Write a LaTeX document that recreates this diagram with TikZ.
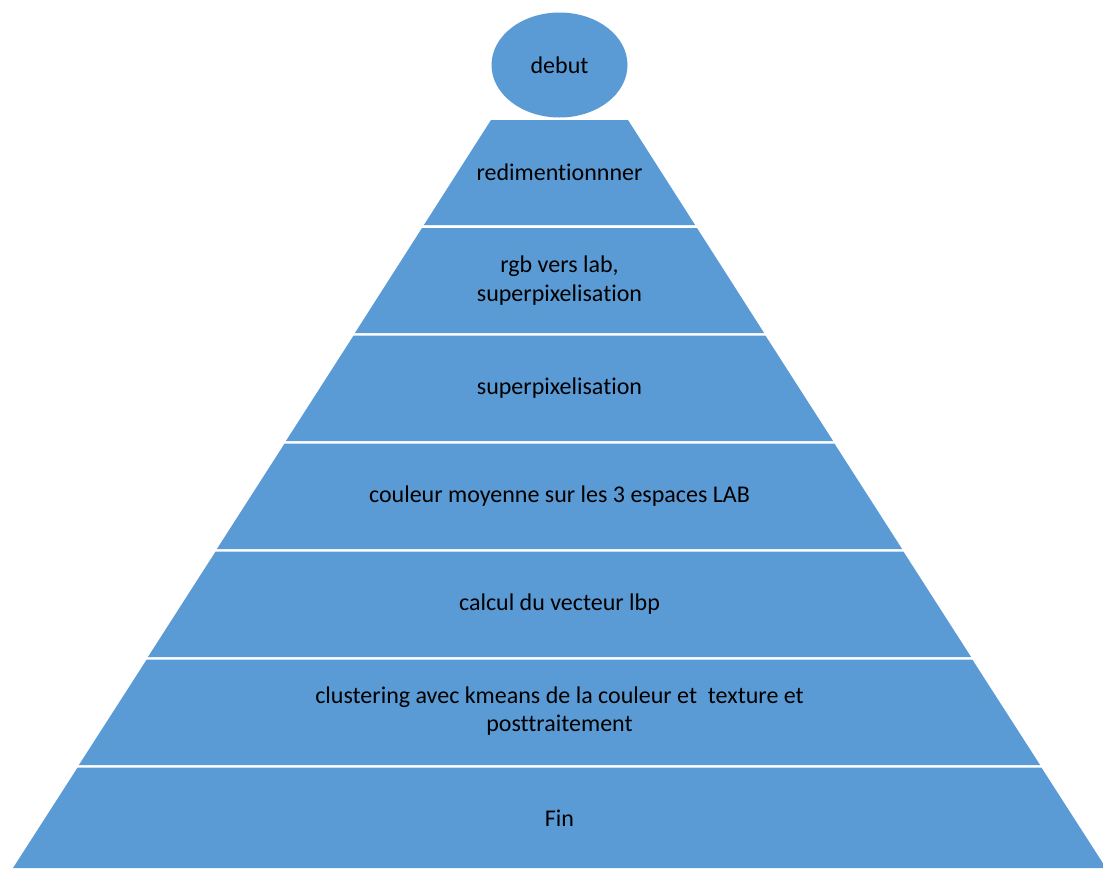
\documentclass[tikz,border=0pt]{standalone}
\usepackage{fontspec}
\setmainfont{Carlito}[Ligatures={NoCommon}]
\usepackage{tikz}
\definecolor{pyrblue}{HTML}{5B9BD5}

\begin{document}
\begin{tikzpicture}[x=1pt,y=1pt]
\tikzstyle{every node}+=[inner sep=0pt, align=center, font=\fontsize{24}{28.5}\selectfont]
\clip (0,0) rectangle (1103,-868);
\fill [white] (0,0) rectangle (1103,-868);
\fill [pyrblue] (559.5,-65) ellipse (68 and 52.5);
\draw (559.5,-65) node (debut) {debut};
\fill [pyrblue] (491,-120) -- (628,-120) -- (695.1,-225) -- (423.9,-225) -- cycle;
\draw (559.5,-172.5) node (redim) {redimentionnner};
\fill [pyrblue] (422,-228) -- (697,-228) -- (764.1,-333) -- (354.9,-333) -- cycle;
\draw (559.5,-280.5) node (rgblab) {rgb vers lab,\\superpixelisation};
\fill [pyrblue] (353.6,-335.5) -- (765.4,-335.5) -- (833.1,-441) -- (285.9,-441) -- cycle;
\draw (559.5,-388) node (superpix) {superpixelisation};
\fill [pyrblue] (284.6,-443.5) -- (834.4,-443.5) -- (902.1,-549) -- (216.9,-549) -- cycle;
\draw (559.5,-496) node (couleur) {couleur moyenne sur les 3 espaces LAB};
\fill [pyrblue] (215.6,-551.5) -- (903.4,-551.5) -- (971.1,-657) -- (147.9,-657) -- cycle;
\draw (559.5,-604) node (lbp) {calcul du vecteur lbp};
\fill [pyrblue] (146.7,-659.5) -- (972.3,-659.5) -- (1040.1,-765) -- (78.9,-765) -- cycle;
\draw (559.5,-711) node (cluster) {clustering avec kmeans de la couleur et\ \ texture et\\posttraitement};
\fill [pyrblue] (77.6,-767.5) -- (1041.4,-767.5) -- (1106,-868) -- (13,-868) -- cycle;
\draw (559.5,-818) node (fin) {Fin};
\end{tikzpicture}
\end{document}
